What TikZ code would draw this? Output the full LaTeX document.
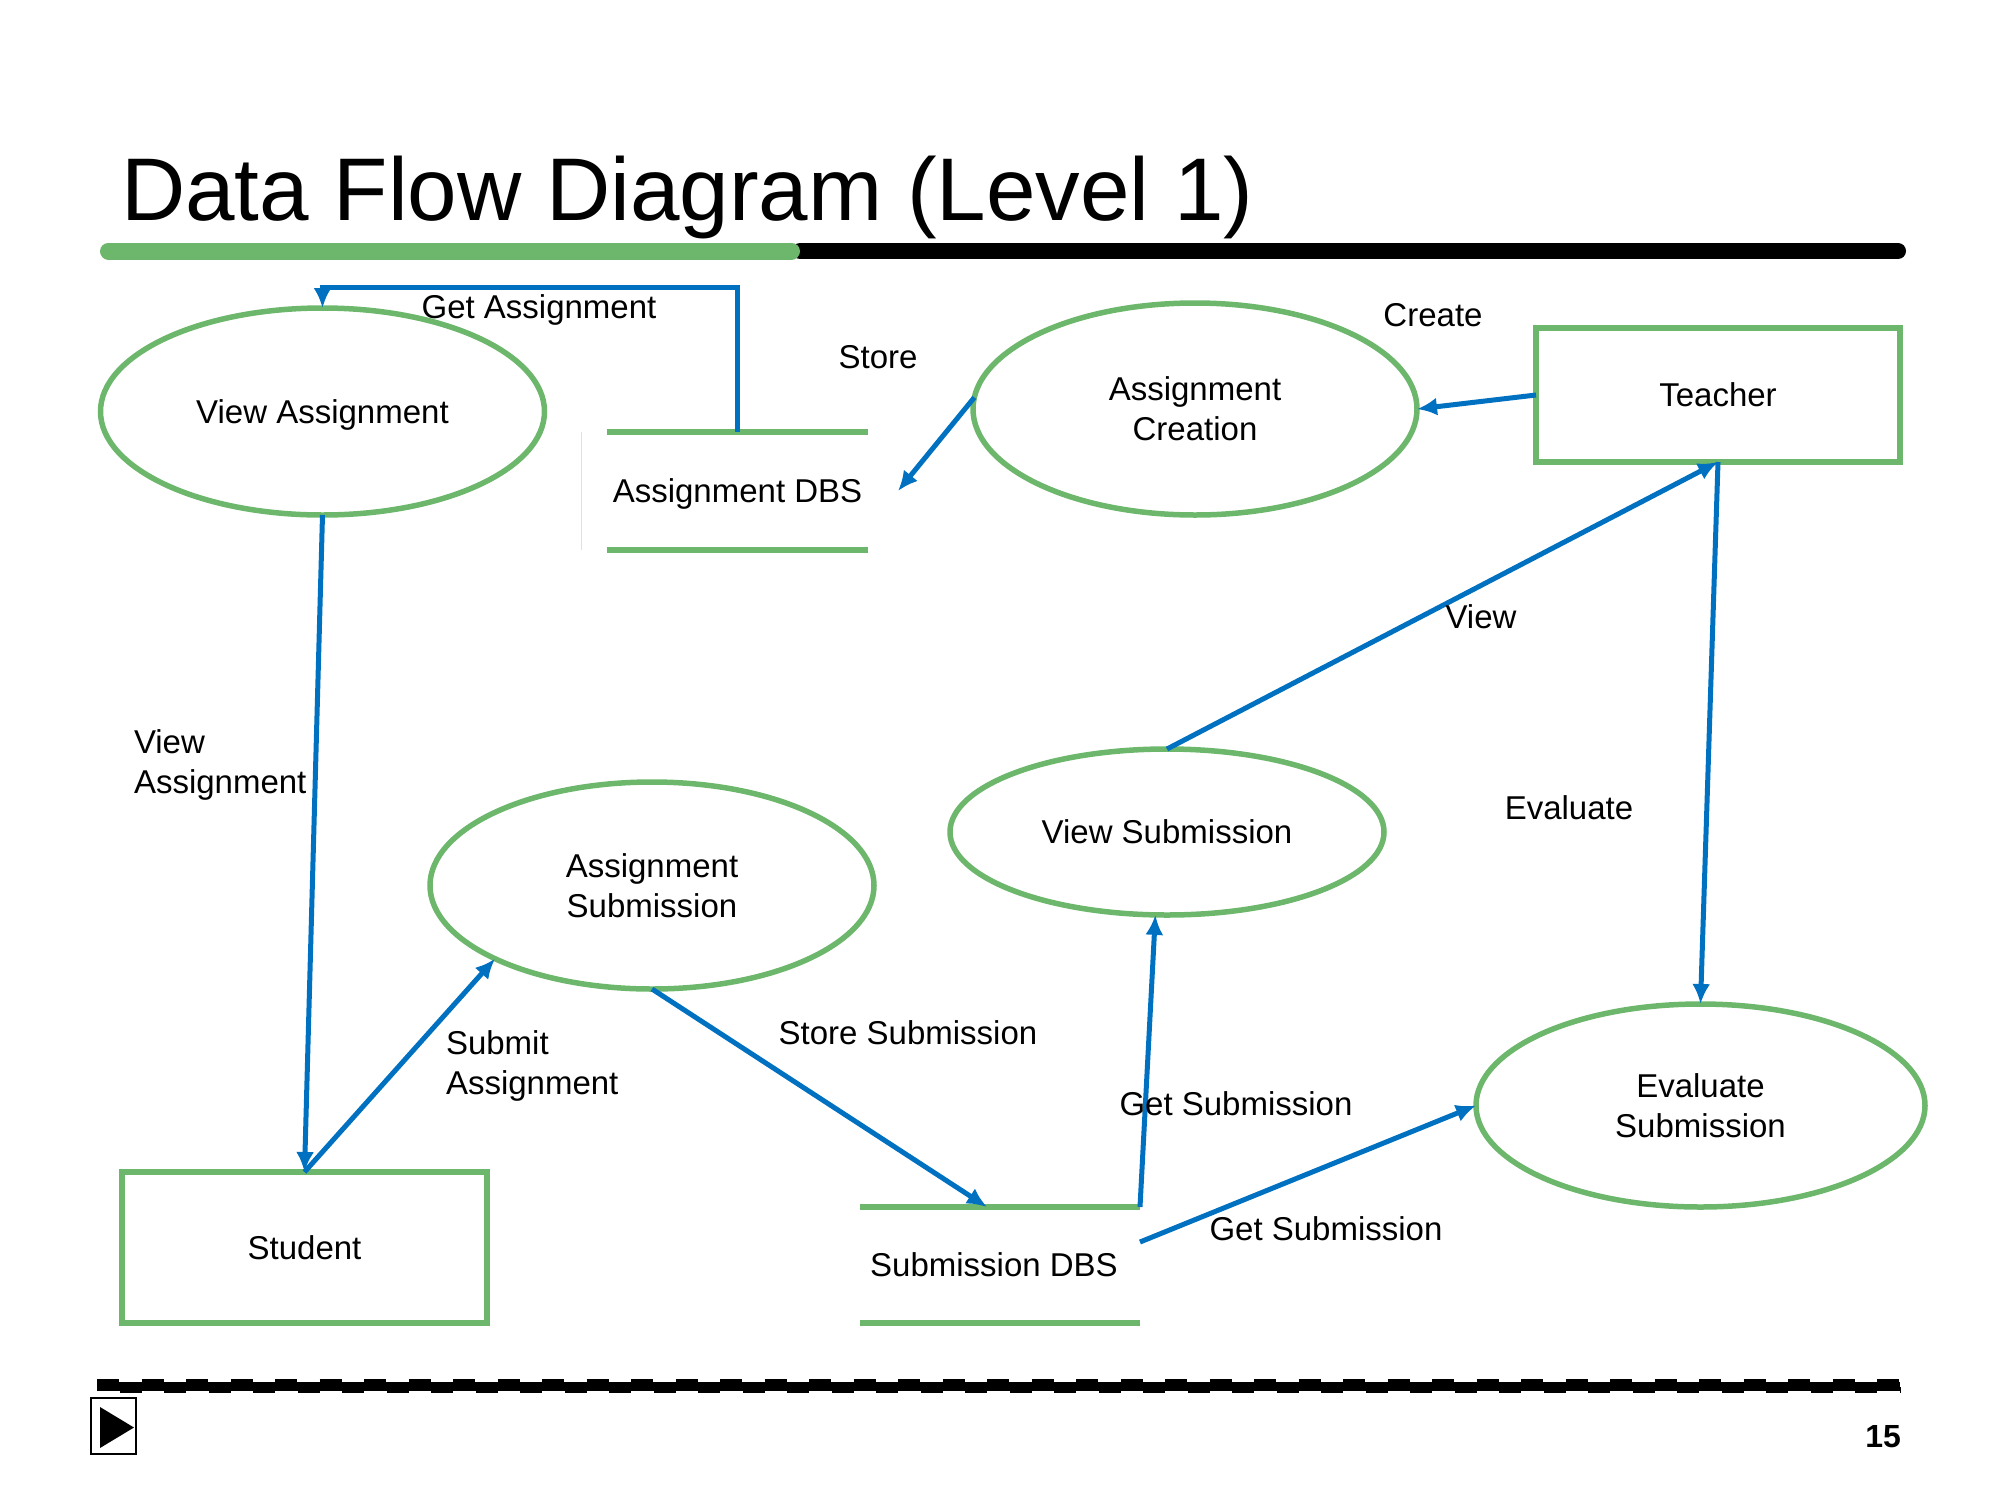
\documentclass[tikz,border=0pt]{standalone}
\usepackage{fontspec}
\setmainfont{Liberation Sans}
\usetikzlibrary{shapes.geometric,arrows.meta}
\definecolor{dfgreen}{RGB}{108,183,107}
\definecolor{dfblue}{RGB}{0,112,192}
\begin{document}
\begin{tikzpicture}[x=1pt,y=-1pt,
  every node/.style={font=\fontsize{33}{40}\selectfont, inner sep=0pt, outer sep=0pt},
  proc/.style={ellipse, draw=dfgreen, line width=5.5pt, align=center},
  ent/.style={rectangle, draw=dfgreen, line width=5.5pt, align=center},
  dstore/.style={rectangle, align=center},
  storeline/.style={draw=dfgreen, line width=5.5pt},
  flow/.style={draw=dfblue, line width=5pt, -{Latex[length=20pt,width=18pt]}},
  lbl/.style={align=left},
  nodesc/.style={text depth=0pt}]
\useasboundingbox (0,0) rectangle (2000,1500);

% title
\node[anchor=base west, font=\fontsize{89}{100}\selectfont] (title) at (121,220) {Data Flow Diagram (Level 1)};
\draw[line width=16pt, line cap=round] (800,251) -- (1898,251);
\draw[dfgreen, line width=17pt, line cap=round] (108.5,251) -- (791.5,251);

% processes
\node[proc, nodesc, minimum width=444pt, minimum height=207pt] (va) at (322.5,411.5) {View Assignment};
\node[proc, minimum width=444pt, minimum height=212pt] (ac) at (1195,409) {Assignment\\Creation};
\node[proc, minimum width=444pt, minimum height=207pt] (as) at (652,885.5) {Assignment\\Submission};
\node[proc, minimum width=434pt, minimum height=166pt] (vs) at (1167,832) {View Submission};
\node[proc, minimum width=449pt, minimum height=203pt] (es) at (1700.5,1105.5) {Evaluate\\Submission};

% entities
\node[ent, minimum width=364pt, minimum height=134pt] (teacher) at (1718,395) {Teacher};
\node[ent, minimum width=365pt, minimum height=151pt] (student) at (304.5,1247.5) {Student};

% data stores
\node[dstore, nodesc, minimum width=261pt, minimum height=118pt] (adbs) at (737.5,491) {Assignment DBS};
\draw[storeline] (adbs.north west) -- (adbs.north east);
\draw[storeline] (adbs.south west) -- (adbs.south east);
\draw[black!12, line width=1pt] ([xshift=-26pt]adbs.north west) -- ([xshift=-26pt]adbs.south west);
\node[dstore, minimum width=280pt, minimum height=116pt] (sdbs) at (1000,1265) {\hspace*{-12pt}Submission DBS};
\draw[storeline] (sdbs.north west) -- (sdbs.north east);
\draw[storeline] (sdbs.south west) -- (sdbs.south east);

% flows
\draw[flow] (adbs.north) -- ++(0,-145) -| (va.north);
\draw[flow] (ac.177) -- ([xshift=30pt]adbs.east);
\draw[flow] (teacher.west) -- (ac.east);
\draw[flow] (vs.north) -- (teacher.south);
\draw[flow] (teacher.south) -- (es.north);
\draw[flow] (va.south) -- (student.north);
\draw[flow] (student.north) -- (as.205);
\draw[flow] (as.south) -- ([xshift=-13pt]sdbs.north);
\draw[flow] (sdbs.north east) -- (vs.262);
\draw[flow] ([yshift=23pt]sdbs.east) -- (es.west);

% flow labels
\node[nodesc] (lgetass) at (539,307) {Get Assignment};
\node (lstore) at (878,357) {Store};
\node (lcreate) at (1433,315) {Create};
\node (lview) at (1481,617) {View};
\node[lbl, nodesc, anchor=west] (lviewass) at (134,762) {View\\Assignment};
\node (leval) at (1569,808) {Evaluate};
\node[lbl, nodesc, anchor=west] (lsubmit) at (446,1063) {Submit\\Assignment};
\node (lstoresub) at (908,1033) {Store Submission};
\node (lgetsub1) at (1236,1104) {Get Submission};
\node (lgetsub2) at (1326,1229) {Get Submission};

% footer
\coordinate (fl) at (97,1386.5);
\coordinate (fr) at (1900,1386.5);
\draw[line width=9pt] (fl) -- (fr);
\draw[line width=6pt, dash pattern=on 22pt off 22.5pt] ([yshift=4.5pt]fl) -- ([yshift=4.5pt]fr);
\draw[line width=6pt, dash pattern=on 22pt off 22.5pt, dash phase=22pt] ([yshift=-3.5pt]fl) -- ([yshift=-3.5pt]fr);
\node[draw, line width=2.5pt, fill=white, minimum width=45pt, minimum height=56pt] (play) at (113.5,1426) {};
\fill (100,1407) -- (134,1427.5) -- (100,1448) -- cycle;
\node[anchor=base east, font=\fontsize{32}{38}\selectfont\bfseries] (pnum) at (1901,1447) {15};
\end{tikzpicture}
\end{document}
